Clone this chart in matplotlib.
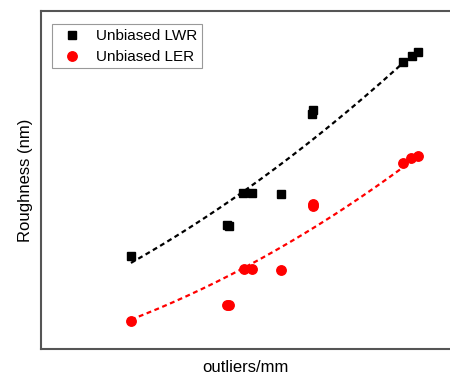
import numpy as np
import matplotlib
matplotlib.use("Agg")
import matplotlib.pyplot as plt

plt.rcParams['font.family'] = ['Liberation Sans', 'DejaVu Sans']

# Outlier density (arbitrary units) and measured roughness
x_lwr = [2.2, 4.55, 4.6, 4.94, 5.16, 5.87, 6.63, 6.65, 8.85, 9.07, 9.22]
lwr = [2.75, 3.67, 3.64, 4.62, 4.62, 4.59, 6.95, 7.07, 8.49, 8.67, 8.79]
x_ler = [2.2, 4.55, 4.6, 4.96, 5.16, 5.87, 6.65, 6.66, 8.85, 9.05, 9.22]
ler = [0.83, 1.30, 1.30, 2.37, 2.37, 2.34, 4.23, 4.29, 5.50, 5.65, 5.71]

# Quadratic trend coefficients (a*x^2 + b*x + c)
trend_lwr = [0.031, 0.547, 1.191]
trend_ler = [0.0316, 0.328, -0.007]

fig = plt.figure(figsize=(4.5, 3.76), dpi=100)
ax = fig.add_axes([0.091, 0.072, 0.909, 0.899])

xx = np.linspace(min(x_lwr), max(x_lwr), 200)
ax.plot(xx, np.polyval(trend_lwr, xx), color='black', lw=1.6, dashes=(2.2, 1.6), zorder=1)
ax.plot(xx, np.polyval(trend_ler, xx), color='red', lw=1.6, dashes=(2.2, 1.6), zorder=1)

ax.plot(x_lwr, lwr, ls='none', marker='s', ms=5.4, color='black', label='Unbiased LWR', zorder=2)
ax.plot(x_ler, ler, ls='none', marker='o', ms=6.8, color='red', label='Unbiased LER', zorder=2)

ax.set_xlim(0, 10)
ax.set_ylim(0, 10)
ax.set_xticks([])
ax.set_yticks([])
for s in ['left', 'bottom', 'top']:
    ax.spines[s].set_color('#555555')
    ax.spines[s].set_linewidth(1.5)
ax.spines['right'].set_visible(False)

ax.set_xlabel('outliers/mm', fontsize=12, labelpad=8)
ax.set_ylabel('Roughness (nm)', fontsize=12, labelpad=6)

leg = ax.legend(loc='upper left', bbox_to_anchor=(0.027, 0.96), fontsize=11,
                fancybox=False, framealpha=1, edgecolor='#999999',
                handlelength=2.0, handletextpad=0.6, borderpad=0.3,
                labelspacing=0.45, borderaxespad=0)
leg.get_frame().set_linewidth(0.8)

fig.savefig('out.png', dpi=100)
